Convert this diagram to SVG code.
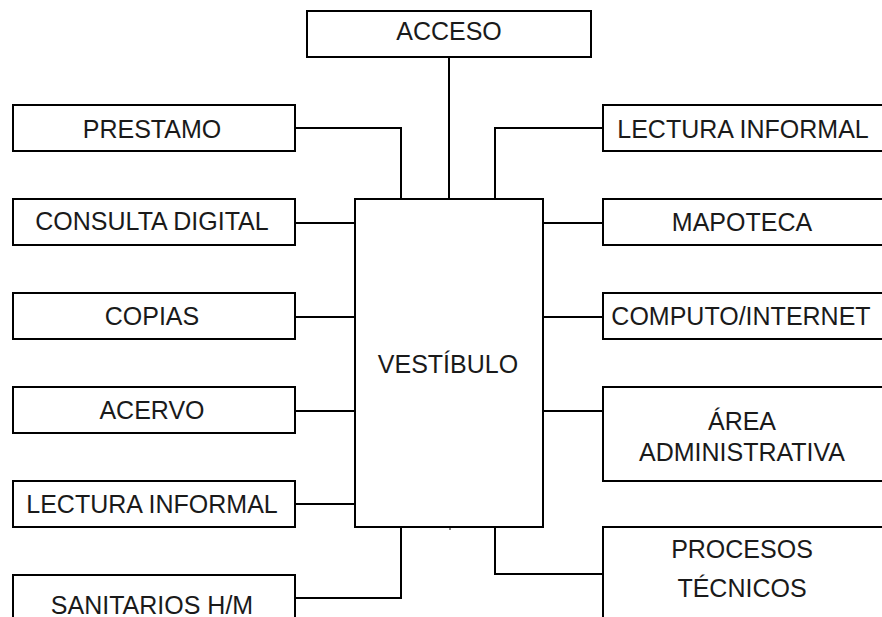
<svg xmlns="http://www.w3.org/2000/svg" width="882" height="617" viewBox="0 0 882 617">
<style>
.b{fill:#fff;stroke:#000;stroke-width:2}
.t{font-family:"Liberation Sans",Arial,sans-serif;font-size:25px;fill:#1a1a1a;text-anchor:middle}
.c{fill:none;stroke:#000;stroke-width:2}
</style>
<rect width="882" height="617" fill="#fff"/>
<g id="connectors">
<path class="c" d="M449,57V199"/>
<path class="c" d="M295,128H401V199"/>
<path class="c" d="M603,128H495V199"/>
<path class="c" d="M295,223H355"/>
<path class="c" d="M295,317H355"/>
<path class="c" d="M295,411H355"/>
<path class="c" d="M295,504H355"/>
<path class="c" d="M295,598H401V527"/>
<path class="c" d="M543,223H603"/>
<path class="c" d="M543,317H603"/>
<path class="c" d="M543,411H603"/>
<path class="c" d="M603,574H495V527"/>
<path d="M450,527V530" stroke="#000" stroke-width="1"/>
</g>
<g id="acceso"><rect class="b" x="307" y="11" width="284" height="46"/><text class="t" x="449" y="39.5">ACCESO</text></g>
<g id="vestibulo"><rect class="b" x="355" y="199" width="188" height="328"/><text class="t" x="448" y="372.5">VESTÍBULO</text></g>
<g id="prestamo"><rect class="b" x="13" y="105" width="282" height="46"/><text class="t" x="152" y="137.5">PRESTAMO</text></g>
<g id="consulta"><rect class="b" x="13" y="199" width="282" height="46"/><text class="t" x="152" y="230">CONSULTA DIGITAL</text></g>
<g id="copias"><rect class="b" x="13" y="293" width="282" height="46"/><text class="t" x="152" y="324.5">COPIAS</text></g>
<g id="acervo"><rect class="b" x="13" y="387" width="282" height="46"/><text class="t" x="152" y="418.5">ACERVO</text></g>
<g id="lectura-izq"><rect class="b" x="13" y="481" width="282" height="46"/><text class="t" x="152" y="512.5">LECTURA INFORMAL</text></g>
<g id="sanitarios"><rect class="b" x="13" y="575" width="282" height="60"/><text class="t" x="152" y="613.5">SANITARIOS H/M</text></g>
<g id="lectura-der"><rect class="b" x="603" y="105" width="284" height="46"/><text class="t" x="743" y="137.5">LECTURA INFORMAL</text></g>
<g id="mapoteca"><rect class="b" x="603" y="199" width="284" height="46"/><text class="t" x="742" y="231">MAPOTECA</text></g>
<g id="computo"><rect class="b" x="603" y="293" width="284" height="46"/><text class="t" x="741" y="325">COMPUTO/INTERNET</text></g>
<g id="area"><rect class="b" x="603" y="387" width="284" height="94"/><text class="t" x="742" y="429.5">ÁREA</text><text class="t" x="742" y="460.5">ADMINISTRATIVA</text></g>
<g id="procesos"><rect class="b" x="603" y="527" width="284" height="120"/><text class="t" x="742" y="557.5">PROCESOS</text><text class="t" x="742" y="596.5">TÉCNICOS</text></g>
</svg>
